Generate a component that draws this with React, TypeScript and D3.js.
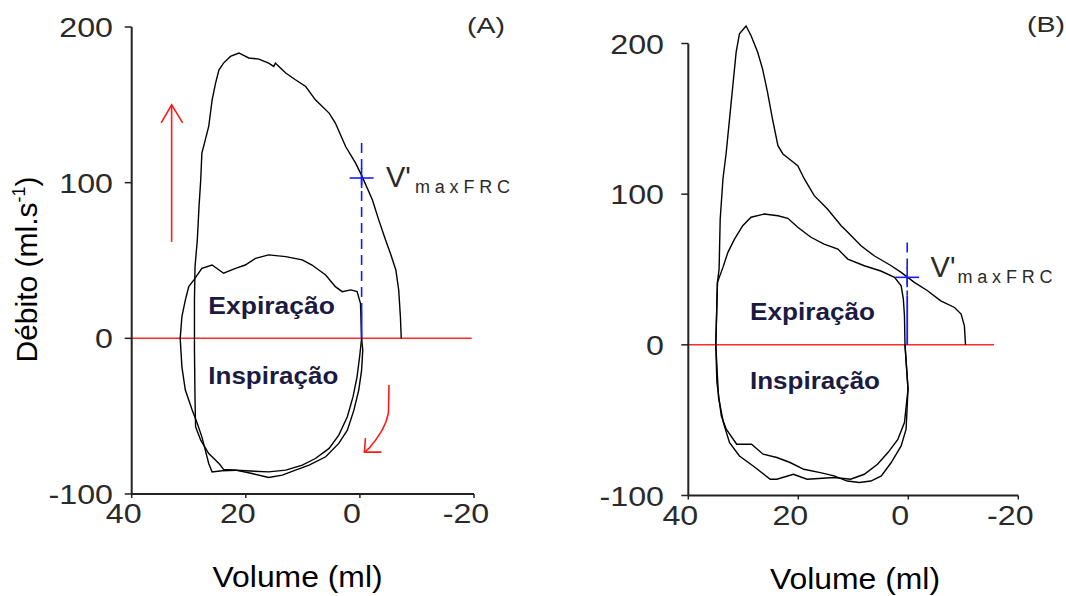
import React from 'react';
import * as d3 from 'd3';

type Pt = [number, number];

// ---------- data (volume ml, flow ml/s) ----------
const volumeTicks = [40, 20, 0, -20];
const flowTicks = [200, 100, 0, -100];
const panelNames = ['(A)', '(B)'];
const xTitle = 'Volume (ml)';
const phaseLabels = ['Expiração', 'Inspiração'];

// Panel A: forced expiration (with its inspiratory limb)
const forcedA: Pt[] = [
  [-0.3, 0], [0.05, -11.8], [0.5, -24.7], [1.2, -37.5], [2.2, -50.4], [3.7, -62.2], [5.4, -70.7],
  [7.8, -77.2], [10.1, -81.5], [13.0, -84.7], [16.0, -85.8], [20.1, -85.1], [23.9, -84.2], [24.7, -80.4],
  [26.5, -74.0], [27.9, -65.4], [28.8, -56.8], [28.9, -39.7], [29.0, -7.5], [29.0, 24.6], [28.9, 46.0],
  [28.5, 63.2], [28.2, 84.6], [27.9, 101.8], [27.7, 119.0], [27.1, 127.5], [26.5, 136.1], [25.9, 153.2],
  [25.3, 164.0], [24.7, 172.5], [23.9, 176.8], [22.7, 181.1], [21.2, 183.3], [19.5, 180.1], [17.7, 179.4],
  [16.0, 176.8], [15.1, 174.7], [14.8, 176.8], [14.2, 174.7], [13.0, 170.4], [11.3, 166.1], [9.5, 161.8],
  [7.8, 153.2], [5.4, 144.7], [4.3, 138.3], [2.5, 123.2], [0.75, 112.5], [-0.4, 103.9], [-2.2, 88.9],
  [-3.3, 76.1], [-4.5, 63.2], [-5.4, 54.0], [-6.3, 43.9], [-6.8, 31.1], [-7.1, 13.9], [-7.25, 0],
];
// Panel A: tidal loop
const tidalA: Pt[] = [
  [31.5, 0], [31.2, 13.9], [30.6, 24.6], [30.0, 33.2], [29.1, 37.5], [27.7, 45.0], [25.9, 47.1],
  [23.9, 41.8], [21.8, 45.0], [20.1, 47.1], [18.3, 51.4], [16.0, 53.6], [13.0, 52.5], [10.1, 50.4],
  [8.4, 47.1], [6.0, 40.7], [4.3, 33.2], [3.1, 30.0], [1.6, 31.1], [0.5, 30.0], [-0.1, 22.5], [-0.3, 0],
  [-0.5, -7.5], [-0.3, -20.4], [0.2, -33.2], [1.05, -46.1], [2.2, -59.0], [3.7, -67.5], [6.0, -76.1],
  [8.9, -81.5], [11.3, -84.7], [13.6, -87.9], [16.0, -89.4], [18.9, -86.8], [21.8, -84.7], [24.2, -85.1],
  [25.9, -85.8], [26.5, -80.4], [27.1, -71.8], [27.7, -63.3], [28.5, -54.7], [29.4, -46.1], [30.6, -33.2],
  [31.2, -18.3], [31.5, 0],
];
// Panel B: forced expiration (with its inspiratory limb)
const forcedB: Pt[] = [
  [0.6, 0], [0.05, -29.4], [0.4, -56.0], [1.3, -67.1], [3.1, -78.1], [4.9, -87.0], [6.8, -90.4],
  [8.9, -91.4], [11.1, -90.4], [13.5, -87.0], [16.0, -84.8], [19.0, -82.6], [21.5, -78.1], [23.9, -74.8],
  [26.4, -72.6], [28.5, -66.0], [31.2, -66.0], [33.1, -56.0], [34.0, -47.1], [34.8, -25], [35.0, 0],
  [34.7, 41.5], [34.4, 50.3], [34.2, 83.5], [33.7, 110.1], [33.1, 127.8], [32.5, 150.0], [31.9, 172.1],
  [31.3, 194.3], [30.7, 206.4], [29.5, 211.6], [28.6, 205.3], [27.4, 194.3], [26.5, 183.2], [25.6, 167.7],
  [24.7, 150.0], [23.7, 132.2], [22.8, 126.7], [21.3, 122.3], [20.1, 118.9], [18.9, 110.1], [17.1, 99.0],
  [14.7, 90.2], [12.2, 79.1], [11.0, 74.7], [8.6, 65.8], [6.2, 59.1], [3.1, 52.5], [1.3, 48.1],
  [-1.1, 41.5], [-3.5, 35.9], [-5.9, 29.2], [-8.4, 24.8], [-9.6, 20.4], [-10.2, 12.6], [-10.4, 0],
];
// Panel B: tidal loop
const tidalB: Pt[] = [
  [35.0, 0], [34.7, 41.5], [33.7, 51.4], [32.8, 61.4], [31.6, 70.2], [30.1, 79.1], [28.6, 84.7],
  [26.2, 86.8], [23.7, 85.7], [21.9, 84.0], [20.1, 78.0], [17.7, 71.4], [15.3, 66.9], [12.8, 63.6],
  [11.0, 56.9], [8.0, 52.5], [5.0, 49.0], [2.5, 44.8], [1.3, 39.2], [0.9, 30.4], [0.7, 19.3], [0.6, 0],
  [0.05, -29.4], [0.7, -51.6], [1.9, -62.7], [3.7, -71.5], [5.6, -79.3], [8.0, -85.9], [10.5, -89.2],
  [13.5, -88.1], [18.4, -89.2], [20.9, -85.9], [23.9, -89.2], [25.1, -89.2], [28.2, -80.4], [30.7, -73.8],
  [32.5, -64.9], [33.6, -52], [34.5, -35], [35.0, 0],
];

// V'maxFRC markers: [volume, flow at cross, dashed top flow, solid-from flow]
const vmaxA = [-0.3, 103, 125.5, 18];
const vmaxB = [0.2, 44.8, 68, 32.5];
// zero-flow reference line extent (volume)
const zeroLineA: Pt = [40, -19.6];
const zeroLineB: Pt = [40, -15.6];
// annotation arrows in panel A (volume, flow)
const upArrowA: Pt[] = [[33.0, 62], [33.0, 150]];
const curvedArrowA: Pt[] = [[-5.1, -30], [-5.0, -48], [-4.56, -53.8], [-3.9, -59], [-2.75, -65.4], [-1.58, -70.7], [-0.79, -73.1]];

const FONT = '"Liberation Sans", Arial, Helvetica, sans-serif';
const AX = '#222';
const TXT = '#2a2a2a';
const LBL = '#1b1b42';

type Cfg = {
  key: string;
  xr: [number, number];
  yr: [number, number];
  forced: Pt[];
  tidal: Pt[];
  vmax: number[];
  zero: Pt;
  yLabX: number;
  xLabY: number;
  name: string;
  nameX: number;
  nameY: number;
  titleX: number;
  titleY: number;
  exp: [number, number, number];
  insp: [number, number, number];
  vOff: [number, number];
  subPos: [number, number];
  arrows: boolean;
};

const panels: Cfg[] = [
  {
    key: 'A', xr: [131.7, 474], yr: [494, 27], forced: forcedA, tidal: tidalA, vmax: vmaxA, zero: zeroLineA,
    yLabX: 113, xLabY: 523, name: panelNames[0], nameX: 467, nameY: 33, titleX: 297.6, titleY: 587,
    exp: [208.3, 313.5, 126.7], insp: [208.3, 384, 130], vOff: [386, 186.7], subPos: [415, 193.3], arrows: true,
  },
  {
    key: 'B', xr: [688.3, 1018.3], yr: [495.5, 43.5], forced: forcedB, tidal: tidalB, vmax: vmaxB, zero: zeroLineB,
    yLabX: 664, xLabY: 525, name: panelNames[1], nameX: 1027, nameY: 32, titleX: 855, titleY: 589,
    exp: [750, 320, 125], insp: [750, 388.5, 130], vOff: [930.6, 276.7], subPos: [957.5, 283.3], arrows: false,
  },
];

function Panel({ c }: { c: Cfg }) {
  const x = d3.scaleLinear().domain([40, -20]).range(c.xr);
  const y = d3.scaleLinear().domain([-100, 200]).range(c.yr);
  const line = d3.line<Pt>().x((d) => x(d[0])).y((d) => y(d[1]));
  const [vv, vf, vtop, vsolid] = c.vmax;
  const bx = x(vv);
  const x0 = x(40);
  const yb = y(-100);

  let arrows: React.ReactNode = null;
  if (c.arrows) {
    const tip = [x(upArrowA[1][0]), y(upArrowA[1][1])];
    const ct = curvedArrowA[curvedArrowA.length - 1];
    const ctip = [x(ct[0]), y(ct[1])];
    arrows = (
      <g stroke="#ff1a1a" strokeWidth={1.6} fill="none">
        <path d={line(upArrowA) || ''} />
        <path d={`M${tip[0] - 10.5},${tip[1] + 18} L${tip[0]},${tip[1]} L${tip[0] + 11},${tip[1] + 18}`} />
        <path d={line(curvedArrowA) || ''} />
        <path d={`M${ctip[0] + 17},${ctip[1]} L${ctip[0]},${ctip[1]} L${ctip[0] + 1},${ctip[1] - 14}`} />
      </g>
    );
  }

  return (
    <g>
      {/* zero flow line */}
      <line x1={x(c.zero[0])} x2={x(c.zero[1])} y1={y(0)} y2={y(0)} stroke="#ff2a2a" strokeWidth={1.5} />
      {/* curves */}
      <path d={line(c.tidal) || ''} fill="none" stroke="#000" strokeWidth={1.4} />
      <path d={line(c.forced) || ''} fill="none" stroke="#000" strokeWidth={1.4} />
      {/* V'maxFRC marker */}
      <line x1={bx} x2={bx} y1={y(vtop)} y2={y(vsolid)} stroke="#1a1aff" strokeWidth={1.6} strokeDasharray="10,6" />
      <line x1={bx} x2={bx} y1={y(vsolid)} y2={y(0)} stroke="#1a1aff" strokeWidth={1.8} />
      <line x1={bx - 12} x2={bx + 12} y1={y(vf)} y2={y(vf)} stroke="#1a1aff" strokeWidth={1.6} />
      <line x1={bx} x2={bx} y1={y(vf) - 10} y2={y(vf) + 10} stroke="#1a1aff" strokeWidth={1.6} />
      <text x={c.vOff[0]} y={c.vOff[1]} fontFamily={FONT} fontSize={29} fill={TXT}>V'</text>
      <text x={c.subPos[0]} y={c.subPos[1]} fontFamily={FONT} fontSize={18} fill={TXT} textLength={95} lengthAdjust="spacing">maxFRC</text>
      {arrows}
      {/* axes */}
      <line x1={x0} x2={x0} y1={y(200)} y2={yb} stroke={AX} strokeWidth={2} />
      <line x1={x0} x2={x(-20)} y1={yb} y2={yb} stroke={AX} strokeWidth={2} />
      {flowTicks.map((t) => (
        <g key={'yt' + t}>
          <line x1={x0 - 7} x2={x0} y1={y(t)} y2={y(t)} stroke={AX} strokeWidth={1.5} />
          <text transform={`translate(${c.yLabX},${y(t)}) scale(1.15,1)`} dy="0.36em" textAnchor="end"
            fontFamily={FONT} fontSize={28} fill={TXT}>{t}</text>
        </g>
      ))}
      {volumeTicks.map((t) => (
        <g key={'xt' + t}>
          <line x1={x(t)} x2={x(t)} y1={yb} y2={yb + 4} stroke={AX} strokeWidth={1.5} />
          <text transform={`translate(${x(t) - 8},${c.xLabY}) scale(1.15,1)`} textAnchor="middle"
            fontFamily={FONT} fontSize={28} fill={TXT}>{t}</text>
        </g>
      ))}
      {/* labels */}
      <text x={c.nameX} y={c.nameY} fontFamily={FONT} fontSize={22} fill={TXT} textLength={38} lengthAdjust="spacingAndGlyphs">{c.name}</text>
      <text x={c.titleX} y={c.titleY} textAnchor="middle" fontFamily={FONT} fontSize={30} fill="#000"
        textLength={170} lengthAdjust="spacingAndGlyphs">{xTitle}</text>
      <text x={c.exp[0]} y={c.exp[1]} fontFamily={FONT} fontWeight="bold" fontSize={23} fill={LBL}
        textLength={c.exp[2]} lengthAdjust="spacingAndGlyphs">{phaseLabels[0]}</text>
      <text x={c.insp[0]} y={c.insp[1]} fontFamily={FONT} fontWeight="bold" fontSize={23} fill={LBL}
        textLength={c.insp[2]} lengthAdjust="spacingAndGlyphs">{phaseLabels[1]}</text>
    </g>
  );
}

export default function App() {
  return (
    <svg width={1066} height={596} viewBox="0 0 1066 596"
      style={{ position: 'absolute', left: 0, top: 0, background: '#fff' }}>
      <rect x={0} y={0} width={1066} height={596} fill="#fff" />
      {panels.map((c) => <Panel key={c.key} c={c} />)}
      <text transform="translate(36.5,269.5) rotate(-90)" textAnchor="middle" fontFamily={FONT} fontSize={30} fill="#000">
        Débito (ml.s<tspan fontSize={18} dy={-12}>-1</tspan><tspan dy={12}>)</tspan>
      </text>
    </svg>
  );
}
